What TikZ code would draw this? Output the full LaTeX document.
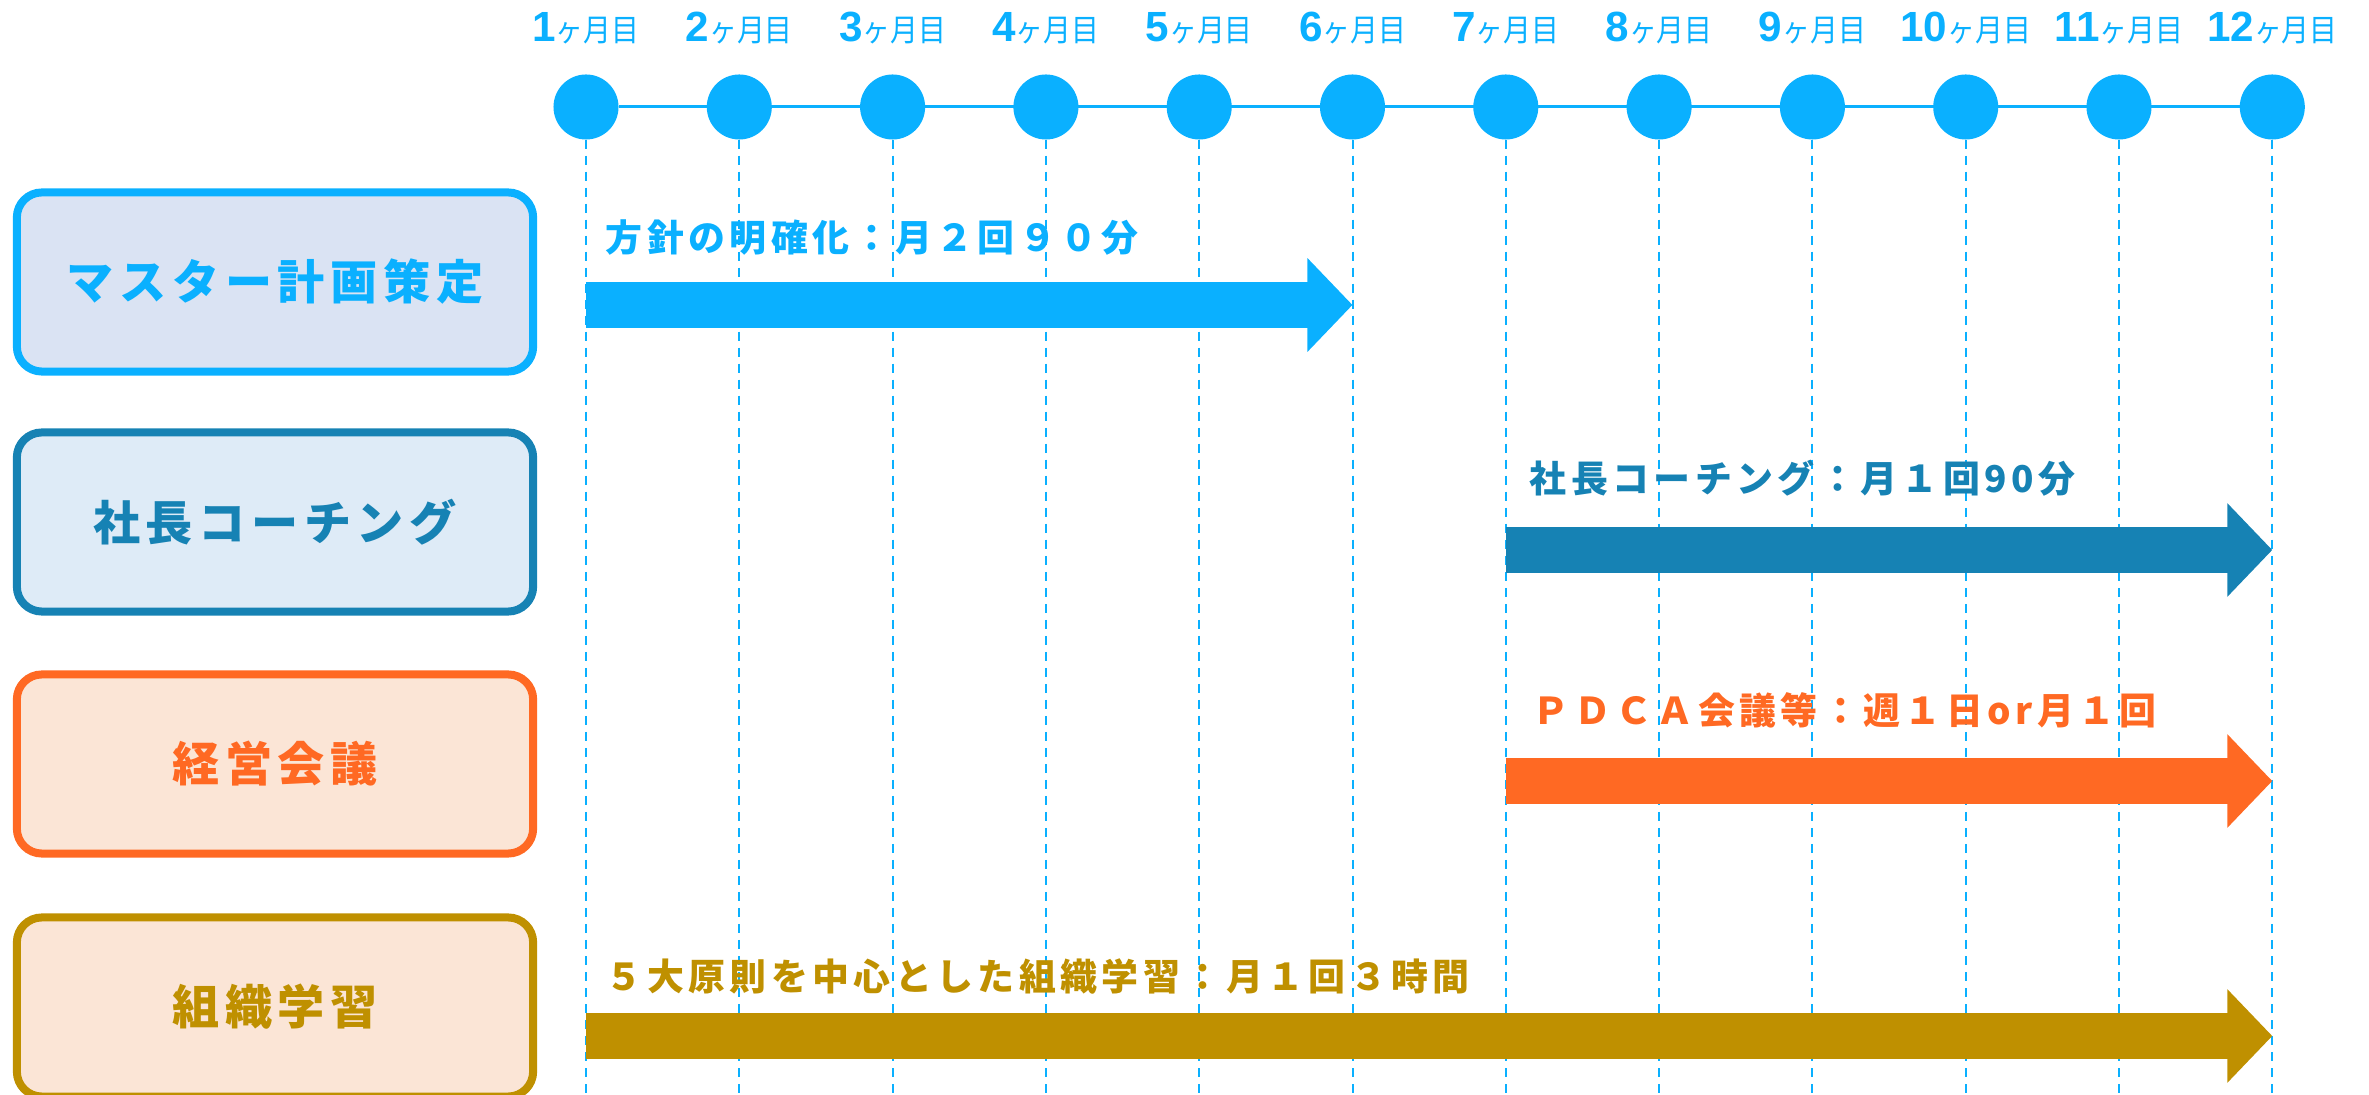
\documentclass[tikz,border=0pt]{standalone}
\usepackage{fontspec}
\usepackage{graphicx}
\usetikzlibrary{arrows.meta}
\setmainfont{Noto Sans CJK JP}
\newfontfamily\jpspaced[LetterSpace=12]{Noto Sans CJK JP}
\newfontfamily\numfont{Liberation Sans}
\definecolor{cMaster}{RGB}{10,176,255}
\definecolor{cCoach}{RGB}{22,130,180}
\definecolor{cMeet}{RGB}{255,105,35}
\definecolor{cLearn}{RGB}{191,144,0}
\definecolor{fMaster}{RGB}{218,227,243}
\definecolor{fCoach}{RGB}{222,235,247}
\definecolor{fWarm}{RGB}{251,229,214}

\begin{document}
\begin{tikzpicture}[x=0.01cm,y=-0.01cm,
  dot/.style={circle,fill=cMaster,inner sep=0pt,outer sep=0pt,minimum size=0.65cm},
  mlabel/.style={anchor=base,text=cMaster,inner sep=0pt},
  timeline/.style={draw=cMaster,line width=0.03cm},
  guideline/.style={draw=cMaster,line width=0.02cm,dash pattern=on 0.09cm off 0.07cm},
  phase/.style 2 args={draw=#1,fill=#2,text=#1,line width=0.08cm,rounded corners=0.25cm,
    minimum width=5.16cm,minimum height=1.79cm,inner sep=0pt,
    font=\jpspaced\bfseries\fontsize{13.4}{16}\selectfont},
  bar/.style={draw=#1,line width=0.46cm,-{Triangle[length=0.45cm,width=0.91cm]}},
  bartext/.style={anchor=west,text=#1,inner sep=0pt,font=\jpspaced\bfseries\fontsize{10.5}{13}\selectfont}]
\useasboundingbox (0,0) rectangle (2369,1095);

\foreach \i in {1,...,12}{
  \node[dot] (m\i) at ({586+153.3*(\i-1)},107) {};
  \node[mlabel] (l\i) at ({586+153.3*(\i-1)},42)
    {{\numfont\bfseries\fontsize{12}{14}\selectfont\i}\scalebox{0.9}[1]{\fontsize{8.8}{10}\selectfont ヶ月目}};
  \coordinate (b\i) at ({586+153.3*(\i-1)},1095);
}
\draw[timeline] (m1) -- (m12);
\foreach \i in {1,...,12}
  \draw[guideline] (m\i.south) -- (b\i);

\node[phase={cMaster}{fMaster}] (p1) at (275,282) {マスター計画策定};
\node[phase={cCoach}{fCoach}] (p2) at (275,522) {社長コーチング};
\node[phase={cMeet}{fWarm}] (p3) at (275,764) {経営会議};
\node[phase={cLearn}{fWarm}] (p4) at (275,1007) {組織学習};

\coordinate (s1) at (m1 |- 0,305);
\coordinate (e1) at (m6 |- 0,305);
\coordinate (s2) at (m7 |- 0,550);
\coordinate (e2) at (m12 |- 0,550);
\coordinate (s3) at (m7 |- 0,781);
\coordinate (e3) at (m12 |- 0,781);
\coordinate (s4) at (m1 |- 0,1036);
\coordinate (e4) at (m12 |- 0,1036);
\draw[bar=cMaster] (s1) -- (e1);
\draw[bar=cCoach] (s2) -- (e2);
\draw[bar=cMeet] (s3) -- (e3);
\draw[bar=cLearn] (s4) -- (e4);

\node[bartext=cMaster] (t1) at (605,238) {方針の明確化：月２回９０分};
\node[bartext=cCoach] (t2) at (1529,478) {社長コーチング：月１回90分};
\node[bartext=cMeet] (t3) at (1532,710) {ＰＤＣＡ会議等：週１日or月１回};
\node[bartext=cLearn] (t4) at (605,977) {５大原則を中心とした組織学習：月１回３時間};
\end{tikzpicture}
\end{document}
